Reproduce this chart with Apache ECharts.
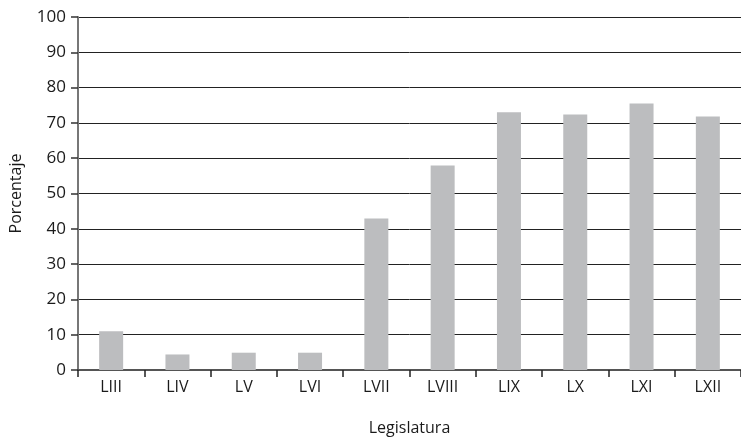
<!DOCTYPE html>
<html>
<head>
<meta charset="utf-8">
<script src="https://cdn.jsdelivr.net/npm/echarts@6/dist/echarts.min.js"></script>
<style>
  html, body { margin: 0; padding: 0; background: #fff; }
  #chart { width: 741px; height: 441px; }
</style>
</head>
<body>
<div id="chart"></div>
<script>
const legislaturas = ['LIII', 'LIV', 'LV', 'LVI', 'LVII', 'LVIII', 'LIX', 'LX', 'LXI', 'LXII']
const porcentaje = [11, 4.4, 4.9, 4.9, 42.9, 57.9, 73, 72.4, 75.5, 71.8]

const font = 'Open Sans'
const chart = echarts.init(document.getElementById('chart'))

const option = {
  animation: false,
  textStyle: { fontFamily: font },
  grid: {
    left: 73,
    width: 674,
    top: 17,
    bottom: 63
  },
  xAxis: {
    type: 'category',
    data: legislaturas,
    name: 'Legislatura',
    nameLocation: 'middle',
    nameGap: 50,
    nameTextStyle: { color: '#1a1a1a', fontSize: 16, fontFamily: font },
    axisLine: { lineStyle: { color: '#555', width: 2 } },
    axisTick: { show: true, length: 7, lineStyle: { color: '#222', width: 1.5 } },
    axisLabel: { color: '#1a1a1a', fontSize: 16, margin: 9, fontFamily: font }
  },
  yAxis: {
    type: 'value',
    min: 0,
    max: 100,
    interval: 10,
    name: 'Porcentaje',
    nameLocation: 'middle',
    nameGap: 54,
    nameTextStyle: { color: '#1a1a1a', fontSize: 16, fontFamily: font },
    axisLine: { show: true, lineStyle: { color: '#777', width: 2 } },
    axisTick: { show: true, length: 7, lineStyle: { color: '#333', width: 1.5 } },
    axisLabel: { color: '#1a1a1a', fontSize: 17, margin: 12, fontFamily: font },
    splitLine: { show: true, lineStyle: { color: '#222', width: 1 } }
  },
  series: [{
    type: 'bar',
    data: porcentaje,
    barWidth: 24,
    itemStyle: { color: '#bcbdbf' }
  }]
}

chart.setOption(option)
</script>
</body>
</html>
